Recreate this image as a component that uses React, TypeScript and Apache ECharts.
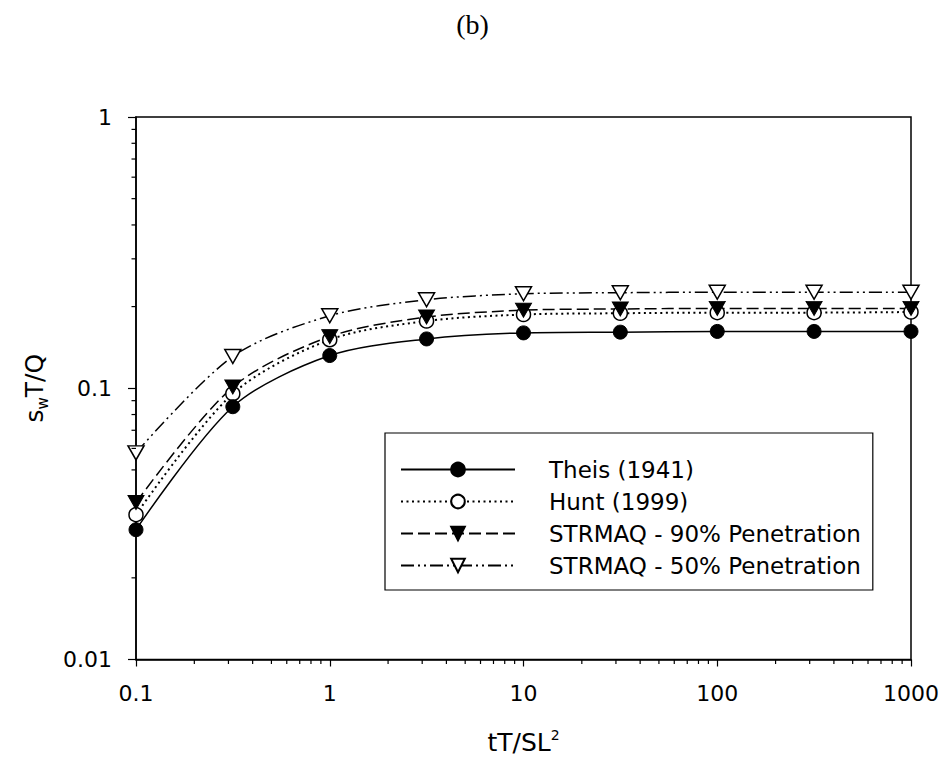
import React, { useEffect, useRef } from "react";
import * as echarts from "echarts";

// ---- data ----
const xValues = [0.1, 0.316, 1, 3.16, 10, 31.6, 100, 316, 1000];
const theis = [0.0301, 0.0855, 0.132, 0.152, 0.160, 0.161, 0.162, 0.162, 0.162];
const hunt = [0.0342, 0.0955, 0.151, 0.177, 0.187, 0.189, 0.190, 0.190, 0.191];
const strmaq90 = [0.0379, 0.101, 0.155, 0.183, 0.194, 0.196, 0.197, 0.197, 0.197];
const strmaq50 = [0.0578, 0.131, 0.185, 0.212, 0.223, 0.225, 0.226, 0.226, 0.226];
const seriesNames = [
  "Theis (1941)",
  "Hunt (1999)",
  "STRMAQ - 90% Penetration",
  "STRMAQ - 50% Penetration",
];
const xRange = [0.1, 1000];
const yRange = [0.01, 1];
const xMinorTicks = [
  0.2, 0.3, 0.4, 0.5, 0.6, 0.7, 0.8, 0.9,
  2, 3, 4, 5, 6, 7, 8, 9,
  20, 30, 40, 50, 60, 70, 80, 90,
  200, 300, 400, 500, 600, 700, 800, 900,
];
const yMinorTicks = [
  0.02, 0.03, 0.04, 0.05, 0.06, 0.07, 0.08, 0.09,
  0.2, 0.3, 0.4, 0.5, 0.6, 0.7, 0.8, 0.9,
];

const FONT = "'DejaVu Sans', 'Liberation Sans', sans-serif";

function pairs(ys: number[]) {
  return xValues.map((x, i) => [x, ys[i]]);
}

export default function App() {
  const ref = useRef<HTMLDivElement>(null);

  useEffect(() => {
    if (!ref.current) return;
    const chart = echarts.init(ref.current, null, { renderer: "svg" });

    const lineBase = { color: "#000", width: 1.5 };
    const SMOOTH = 0.3;
    const option: any = {
      animation: false,
      backgroundColor: "#fff",
      title: {
        text: "(b)",
        left: "center",
        top: 5,
        textStyle: {
          fontFamily: "'Liberation Serif', 'DejaVu Serif', serif",
          fontSize: 28,
          fontWeight: "normal",
          color: "#000",
        },
      },
      grid: {
        left: 136,
        right: 34,
        top: 117,
        bottom: 100,
        show: true,
        borderColor: "#000",
        borderWidth: 1.5,
        backgroundColor: "transparent",
      },
      legend: {
        orient: "vertical",
        left: 385,
        top: 433,
        data: seriesNames,
        itemWidth: 114,
        itemHeight: 17,
        itemGap: 9,
        borderColor: "#000",
        borderWidth: 1.2,
        borderRadius: 0,
        padding: [25, 12, 13, 15],
        backgroundColor: "#fff",
        textStyle: {
          fontFamily: FONT,
          fontSize: 23,
          lineHeight: 23,
          color: "#000",
          padding: [0, 0, 0, 29],
        },
      },
      xAxis: {
        type: "log",
        logBase: 10,
        min: xRange[0],
        max: xRange[1],
        axisLine: { show: true, onZero: false, lineStyle: { color: "#000", width: 1.5 } },
        axisTick: { show: true, length: 7, inside: false, lineStyle: { color: "#000", width: 1.2 } },
        minorTick: { show: false },
        splitLine: { show: false },
        axisLabel: {
          fontFamily: FONT,
          fontSize: 22,
          color: "#000",
          margin: 23,
          formatter: (v: number) => String(+Number(v).toPrecision(6)),
        },
        name: "{a|tT/SL}{sup|2}",
        nameLocation: "middle",
        nameGap: 68,
        nameTextStyle: {
          rich: {
            a: { fontFamily: FONT, fontSize: 25, color: "#000", lineHeight: 30 },
            sup: { fontFamily: FONT, fontSize: 14, color: "#000", lineHeight: 14, verticalAlign: "top" },
          },
        },
      },
      yAxis: {
        type: "log",
        logBase: 10,
        min: yRange[0],
        max: yRange[1],
        axisLine: { show: true, onZero: false, lineStyle: { color: "#000", width: 1.5 } },
        axisTick: { show: true, length: 8, inside: false, lineStyle: { color: "#000", width: 1.2 } },
        minorTick: { show: false },
        splitLine: { show: false },
        axisLabel: {
          fontFamily: FONT,
          fontSize: 22,
          color: "#000",
          margin: 24,
          formatter: (v: number) => String(+Number(v).toPrecision(6)),
        },
        name: "{a|s}{sub|w}{a|T/Q}",
        nameLocation: "middle",
        nameGap: 86,
        nameTextStyle: {
          rich: {
            a: { fontFamily: FONT, fontSize: 25, color: "#000", lineHeight: 32 },
            sub: { fontFamily: FONT, fontSize: 15, color: "#000", lineHeight: 15, verticalAlign: "bottom" },
          },
        },
      },
      series: [
        {
          name: seriesNames[0],
          type: "line",
          data: pairs(theis),
          smooth: SMOOTH,
          symbol: "circle",
          symbolSize: 14,
          itemStyle: { color: "#000", borderColor: "#000", borderWidth: 1 },
          lineStyle: { ...lineBase, type: "solid" },
          z: 4,
        },
        {
          name: seriesNames[1],
          type: "line",
          data: pairs(hunt),
          smooth: SMOOTH,
          symbol: "circle",
          symbolSize: 14,
          itemStyle: { color: "#fff", borderColor: "#000", borderWidth: 1.5 },
          lineStyle: { color: "#000", width: 2, type: [2, 3.5] },
          z: 3,
        },
        {
          name: seriesNames[2],
          type: "line",
          data: pairs(strmaq90),
          smooth: SMOOTH,
          symbol: "triangle",
          symbolRotate: 180,
          symbolSize: [16, 14],
          itemStyle: { color: "#000", borderColor: "#000", borderWidth: 1 },
          lineStyle: { ...lineBase, type: [12, 5] },
          z: 3,
        },
        {
          name: seriesNames[3],
          type: "line",
          data: pairs(strmaq50),
          smooth: SMOOTH,
          symbol: "triangle",
          symbolRotate: 180,
          symbolSize: [16, 14],
          itemStyle: { color: "#fff", borderColor: "#000", borderWidth: 1.5 },
          lineStyle: { ...lineBase, type: [13, 4, 2, 4, 2, 4] },
          z: 3,
        },
        {
          type: "custom",
          silent: true,
          clip: false,
          z: 6,
          data: xMinorTicks.map((v) => [v, yRange[0]]),
          renderItem: (_p: any, api: any) => {
            const p = api.coord([api.value(0), api.value(1)]);
            return {
              type: "line",
              shape: { x1: p[0], y1: p[1], x2: p[0], y2: p[1] + 4.5 },
              style: { stroke: "#000", lineWidth: 1.2 },
            };
          },
        },
        {
          type: "custom",
          silent: true,
          clip: false,
          z: 6,
          data: yMinorTicks.map((v) => [xRange[0], v]),
          renderItem: (_p: any, api: any) => {
            const p = api.coord([api.value(0), api.value(1)]);
            return {
              type: "line",
              shape: { x1: p[0] - 4.5, y1: p[1], x2: p[0], y2: p[1] },
              style: { stroke: "#000", lineWidth: 1.2 },
            };
          },
        },
      ],
    };

    chart.setOption(option);
    return () => chart.dispose();
  }, []);

  return (
    <div
      ref={ref}
      style={{ position: "fixed", left: 0, top: 0, width: 945, height: 760, background: "#fff" }}
    />
  );
}
